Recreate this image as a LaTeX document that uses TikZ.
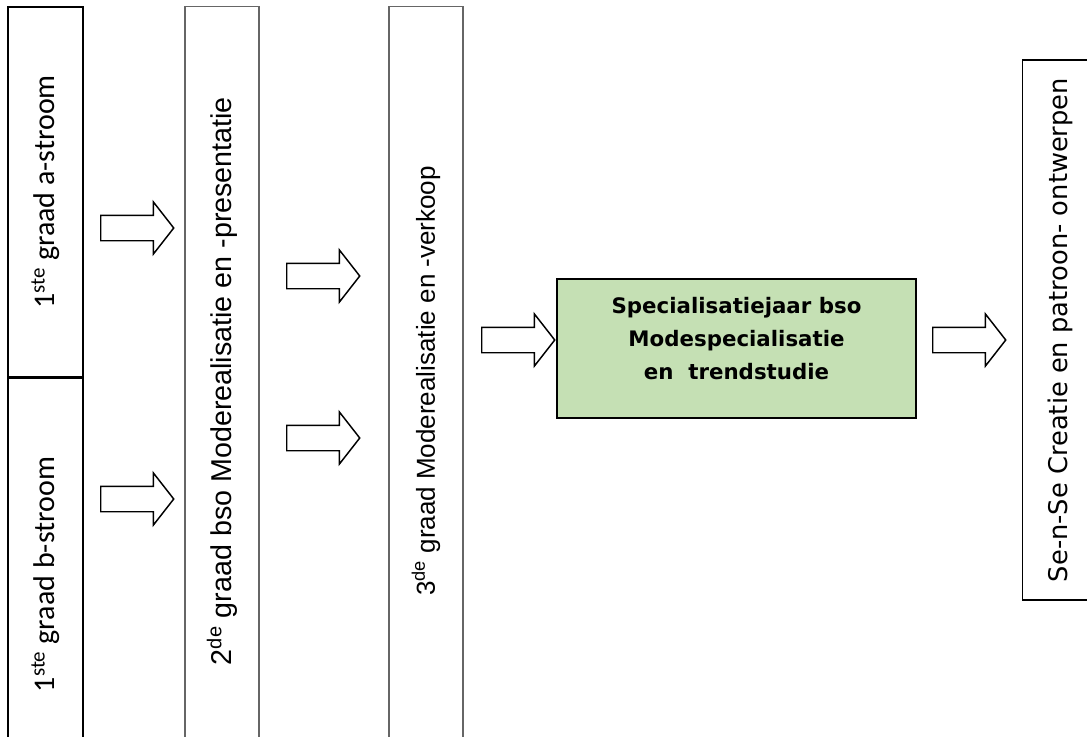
\documentclass[tikz,border=0pt]{standalone}
\usepackage{fontspec}
\setmainfont{Liberation Sans}
\newfontfamily\calfont{Carlito}
\newfontfamily\tahfont{DejaVu Sans}
\usetikzlibrary{shapes.arrows, positioning}

\definecolor{specgreen}{HTML}{C5E0B4}

\begin{document}
\begin{tikzpicture}[
    x=0.75pt, y=-0.75pt,
    stage/.style={draw, line width=1.1pt, inner sep=0pt, minimum width=56pt},
    greystage/.style={draw=black!60, line width=0.8pt, inner sep=0pt, minimum width=55.5pt},
    vtext/.style={rotate=90, inner sep=0pt},
    flow/.style={single arrow, draw, line width=1.1pt, fill=white,
                 inner xsep=0pt, inner ysep=9pt,
                 minimum height=54.75pt, minimum width=38.25pt,
                 single arrow head extend=10pt, single arrow tip angle=104, anchor=tail}
]
  \useasboundingbox (0,0) rectangle (1087,736);
  \clip (0,0) rectangle (1087,736);

  % First column: two streams
  \node[stage, minimum height=277.5pt] (graad1a) at (45.5,192) {};
  \node[stage, minimum height=294pt, below=0pt of graad1a] (graad1b) {};
  \node[vtext, font=\calfont\fontsize{22.5}{26}\selectfont] (t1a) at (graad1a.center)
        {1\textsuperscript{ste} graad a-stroom};
  \node[vtext, font=\calfont\fontsize{22.5}{26}\selectfont] (t1b) at (graad1b.center)
        {1\textsuperscript{ste} graad b-stroom};

  % Second and third degree
  \node[greystage, minimum height=562pt] (graad2) at (222,381) {};
  \node[greystage, minimum height=562pt] (graad3) at (426,381) {};
  \node[vtext, font=\fontsize{21.5}{25}\selectfont] (t2) at (graad2.center)
        {2\textsuperscript{de} graad bso Moderealisatie en -presentatie};
  \node[vtext, font=\fontsize{19.5}{23}\selectfont] (t3) at (graad3.center)
        {3\textsuperscript{de} graad Moderealisatie en -verkoop};

  % Specialisation year
  \node[draw, line width=1.1pt, fill=specgreen, minimum width=269.25pt,
        minimum height=104.25pt] (spec) at (736.5,348.5) {};
  \node[align=center, font=\tahfont\bfseries\fontsize{16}{25}\selectfont] (spectext)
        at ([yshift=7.5pt]spec.center)
        {Specialisatiejaar bso\\Modespecialisatie\\en\ \ trendstudie};

  % Se-n-Se
  \node[stage, minimum height=405pt] (sense) at (1060,330) {};
  \node[vtext, font=\tahfont\fontsize{19.3}{23}\selectfont] (tsense) at (sense.center)
        {Se-n-Se Creatie en patroon- ontwerpen};

  % Block arrows
  \node[flow] (a1) at (100,228) {};
  \node[flow] (b1) at (100,499) {};
  \node[flow] (a2) at (286,276) {};
  \node[flow] (b2) at (286,438) {};
  \node[flow] (a3) at (481,340) {};
  \node[flow] (a4) at (932,340) {};

\end{tikzpicture}
\end{document}
